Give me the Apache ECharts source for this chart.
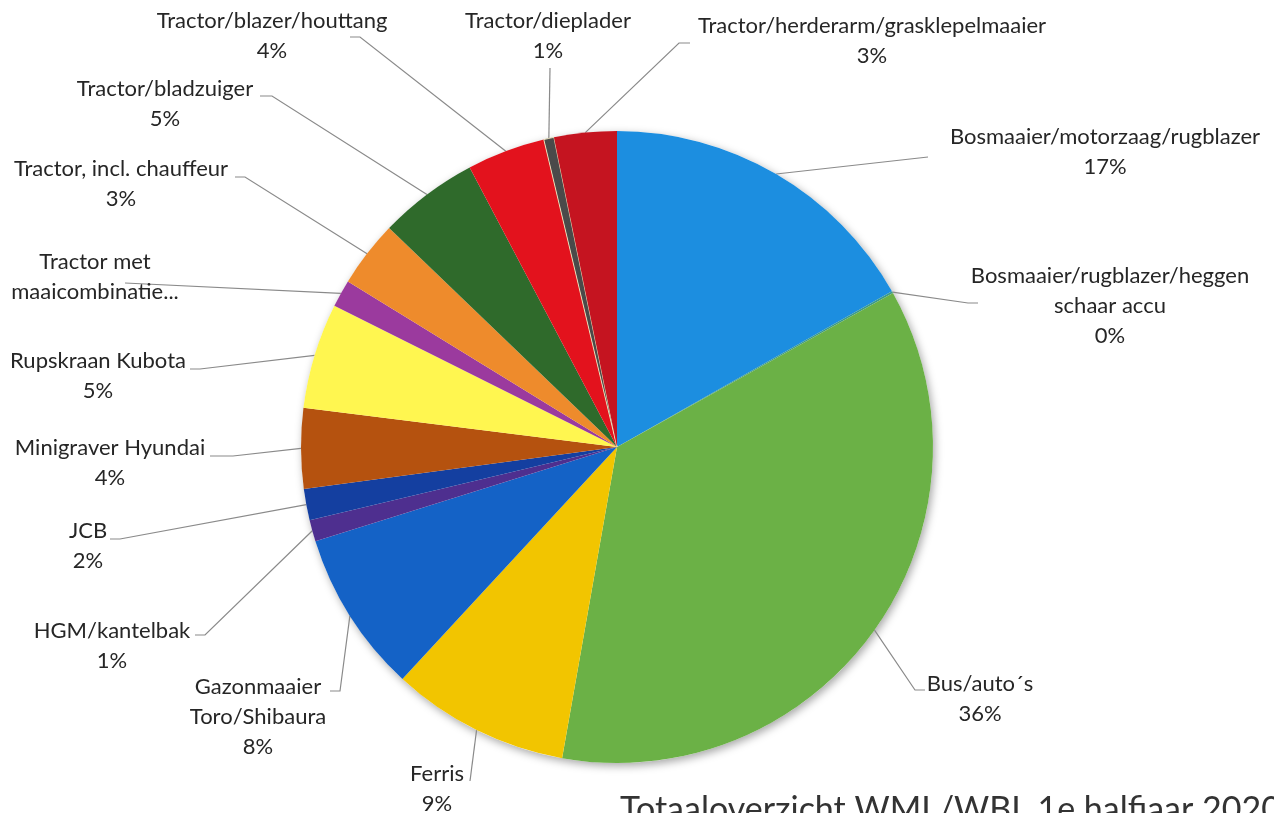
<!DOCTYPE html>
<html>
<head>
<meta charset="utf-8">
<script src="https://cdn.jsdelivr.net/npm/echarts@6/dist/echarts.min.js"></script>
<style>
html,body{margin:0;padding:0;background:#fff;}
#chart{width:1274px;height:813px;}
</style>
</head>
<body>
<div id="chart"></div>
<script>
// ---- data ----
const categories = [
  'Bosmaaier/motorzaag/rugblazer',
  'Bosmaaier/rugblazer/heggen schaar accu',
  'Bus/auto´s',
  'Ferris',
  'Gazonmaaier Toro/Shibaura',
  'HGM/kantelbak',
  'JCB',
  'Minigraver Hyundai',
  'Rupskraan Kubota',
  'Tractor met maaicombinatie',
  'Tractor, incl. chauffeur',
  'Tractor/bladzuiger',
  'Tractor/blazer/houttang',
  'Tractor/dieplader',
  'Tractor/herderarm/grasklepelmaaier'
];
const values = [16.8, 0.1, 35.88, 9.1, 8.3, 1.1, 1.6, 4.1, 5.4, 1.4, 3.4, 5.1, 4.0, 0.52, 3.2];
const labelTexts = [
  'Bosmaaier/motorzaag/rugblazer',
  'Bosmaaier/rugblazer/heggen\nschaar accu',
  'Bus/auto´s',
  'Ferris',
  'Gazonmaaier\nToro/Shibaura',
  'HGM/kantelbak',
  'JCB',
  'Minigraver Hyundai',
  'Rupskraan Kubota',
  'Tractor met\nmaaicombinatie...',
  'Tractor, incl. chauffeur',
  'Tractor/bladzuiger',
  'Tractor/blazer/houttang',
  'Tractor/dieplader',
  'Tractor/herderarm/grasklepelmaaier'
];
const showPercent = [true,true,true,true,true,true,true,true,true,false,true,true,true,true,true];
const title = 'Totaaloverzicht WML/WBL 1e halfjaar 2020';

// ---- styles ----
const colors = ['#1C8EE0','#3A9A8A','#6BB146','#F2C500','#1462C6','#4E2F8F','#143FA0','#B5520F',
  '#FFF650','#9B3A9E','#EE8B2C','#2F6A2B','#E3121D','#4A4A4A','#C51420'];
// label block: [centerX, topY, kneeX, kneeY, endX, endY]
const labelLayoutPos = [
  [1105, 122, 928, 157, 928, 157],
  [1110, 261, 968, 303, 978, 303],
  [980, 669, 915, 690, 925, 690],
  [437, 759, 470, 781, 470, 781],
  [258, 672, 340, 691, 330, 691],
  [112, 616, 205, 635, 195, 635],
  [88, 516, 120, 539, 110, 539],
  [110, 433, 233, 456, 210, 456],
  [98, 346, 200, 369, 190, 369],
  [95, 247, 125, 283, 125, 283],
  [121, 154, 245, 177, 235, 177],
  [165, 74, 272, 96, 260, 96],
  [272, 6, 360, 37, 350, 37],
  [548, 6, 550, 68, 550, 68],
  [872, 11, 679, 43, 690, 43]
];

const cx = 617, cy = 447, R = 316;

const chart = echarts.init(document.getElementById('chart'));
const data = categories.map((c, i) => ({
  name: c,
  value: values[i],
  itemStyle: i === 13 ? {color: colors[i], borderColor: '#fff6c8', borderWidth: 0.8} : {color: colors[i]}
}));

chart.setOption({
  backgroundColor: '#fff',
  animation: false,
  series: [
    {
      type: 'pie',
      silent: true,
      center: [cx, cy],
      radius: [0, R],
      z: 1,
      label: {show: false},
      labelLine: {show: false},
      itemStyle: {color: '#fff', shadowBlur: 8, shadowOffsetX: 2, shadowOffsetY: 3, shadowColor: 'rgba(0,0,0,0.35)'},
      data: [{value: 1, name: 'bg'}]
    },
    {
      type: 'pie',
      z: 2,
      center: [cx, cy],
      radius: [0, R],
      startAngle: 90,
      clockwise: true,
      avoidLabelOverlap: false,
      percentPrecision: 2,
      data: data,
      label: {
        show: true,
        position: 'outside',
        fontFamily: 'Lato',
        fontSize: 22,
        lineHeight: 30,
        color: '#262626',
        align: 'center',
        formatter: function (p) {
          const t = labelTexts[p.dataIndex];
          return showPercent[p.dataIndex] ? t + '\n' + Math.round(p.percent) + '%' : t;
        }
      },
      labelLine: {show: true, length: 20, length2: 10, lineStyle: {color: '#8a8a8a', width: 1.2}},
      labelLayout: function (params) {
        const L = labelLayoutPos[params.dataIndex];
        const p0 = params.labelLinePoints ? params.labelLinePoints[0] : [L[2], L[3]];
        return {
          x: L[0],
          y: L[1],
          align: 'center',
          verticalAlign: 'top',
          labelLinePoints: [p0, [L[2], L[3]], [L[4], L[5]]]
        };
      }
    }
  ],
  graphic: [{
    type: 'text',
    left: 620,
    top: 793,
    style: {text: title, fontFamily: 'Lato', fontSize: 34, fill: '#333'}
  }]
});
</script>
</body>
</html>
